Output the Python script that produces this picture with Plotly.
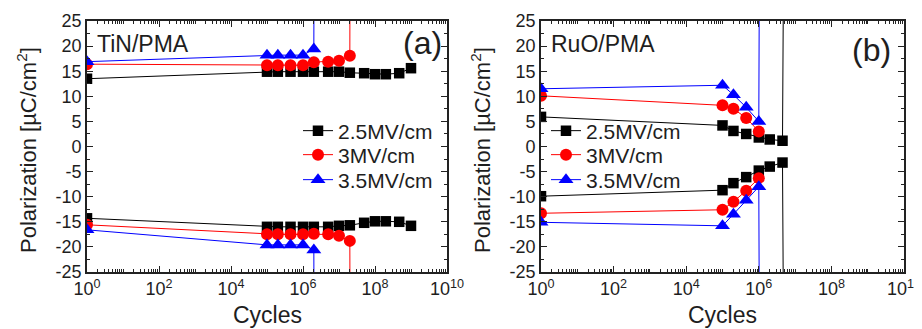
import plotly.graph_objects as go

# ---------------- data ----------------
series_names = ["2.5MV/cm", "3MV/cm", "3.5MV/cm"]
colors = ["#000000", "#ff0000", "#0000ff"]
symbols = ["square", "circle", "triangle-up"]

# Panel (a) TiN/PMA
a_25_cycles = [1, 1e5, 2e5, 4.5e5, 1e6, 2e6, 5e6, 1e7, 2e7, 5e7, 1e8, 2e8, 4.7e8, 1e9]
a_25_pos = [13.5, 14.9, 14.9, 14.9, 14.9, 14.9, 14.9, 14.9, 14.7, 14.6, 14.4, 14.4, 14.6, 15.6]
a_25_neg = [-14.3, -16.0, -16.0, -16.0, -16.0, -16.0, -16.0, -15.8, -15.7, -15.2, -14.9, -14.9, -15.0, -15.8]

a_3_cycles = [1, 1e5, 2e5, 4.5e5, 1e6, 2e6, 5e6, 1e7, 2e7, 2.1e7]
a_3_pos = [16.4, 16.2, 16.2, 16.2, 16.2, 16.8, 16.9, 17.1, 18.1, 100]
a_3_neg = [-15.6, -17.5, -17.5, -17.5, -17.5, -17.4, -17.5, -17.8, -18.8, -100]

a_35_cycles = [1, 1e5, 2e5, 4.5e5, 1e6, 2e6, 2.1e6]
a_35_pos = [16.9, 18.2, 18.2, 18.2, 18.2, 19.4, 100]
a_35_neg = [-16.6, -19.6, -19.6, -19.6, -19.6, -20.6, -100]

# Panel (b) RuO/PMA
b_25_cycles = [1, 1e5, 2e5, 4.5e5, 1e6, 2e6, 4.5e6, 5.4e6]
b_25_pos = [5.9, 4.2, 3.1, 2.5, 1.8, 1.4, 1.15, 100]
b_25_neg = [-9.9, -8.7, -7.3, -6.1, -4.8, -4.0, -3.2, -100]

b_3_cycles = [1, 1e5, 2e5, 4.5e5, 1e6]
b_3_pos = [10.1, 8.2, 7.5, 5.7, 3.0]
b_3_neg = [-13.3, -12.6, -11.0, -8.8, -6.3]

b_35_cycles = [1, 1e5, 2e5, 4.5e5, 1e6, 1.12e6]
b_35_pos = [11.5, 12.2, 10.3, 7.8, 5.0, 100]
b_35_neg = [-15.1, -15.8, -13.5, -10.7, -8.0, -100]

x_tick_exps = [0, 2, 4, 6, 8, 10]
y_tick_vals = [25, 20, 15, 10, 5, 0, -5, -10, -15, -20, -25]

panel_labels = ["TiN/PMA", "RuO/PMA"]
panel_tags = ["(a)", "(b)"]

# ---------------- figure ----------------
# the page body has an 8px default margin, so the figure is placed at (8, 8)
OFF = 8
W, H = 922 - OFF, 329 - OFF
FONT = "Arial, 'Liberation Sans', Helvetica, sans-serif"
TXT = "#1e1e1e"

def px(x):
    return (x - OFF) / W

def py(y):
    return 1 - (y - OFF) / H

fig = go.Figure()

panels = [
    ("x", "y", 0,
     [(a_25_cycles, a_25_pos, a_25_neg), (a_3_cycles, a_3_pos, a_3_neg), (a_35_cycles, a_35_pos, a_35_neg)]),
    ("x2", "y2", 1,
     [(b_25_cycles, b_25_pos, b_25_neg), (b_3_cycles, b_3_pos, b_3_neg), (b_35_cycles, b_35_pos, b_35_neg)]),
]

msize = [10.5, 12, 13]
for xa, ya, p, sets in panels:
    for i, (cx, pos, neg) in enumerate(sets):
        n = p * 3 + i + 1
        lg = "legend" if n == 1 else "legend%d" % n
        for j, vals in enumerate([pos, neg]):
            fig.add_trace(go.Scatter(
                x=cx, y=vals, xaxis=xa, yaxis=ya,
                mode="lines+markers",
                name=series_names[i],
                legend=lg,
                legendgroup=lg,
                showlegend=(j == 0),
                line=dict(color=colors[i], width=1),
                marker=dict(symbol=symbols[i], size=msize[i], color=colors[i],
                            line=dict(width=0)),
            ))

minor_vals = []
for d in range(0, 10):
    for m in range(2, 10):
        minor_vals.append(m * 10 ** d)
    if d % 2 == 1:
        minor_vals.append(10 ** d)

def xaxis_cfg(domain, anchor):
    return dict(
        type="log", range=[0, 10], domain=domain, anchor=anchor, automargin=False,
        tickmode="array",
        tickvals=[10 ** e for e in x_tick_exps],
        ticktext=["10<sup>%d</sup>" % e for e in x_tick_exps],
        ticks="inside", ticklen=6, tickwidth=1.2, tickcolor="#222",
        minor=dict(tickmode="array", tickvals=minor_vals, ticks="inside",
                   ticklen=3, tickwidth=1, tickcolor="#222"),
        showline=True, linecolor="#222", linewidth=1.6, mirror="ticks",
        showgrid=False, zeroline=False,
        tickfont=dict(family=FONT, size=18, color=TXT),
    )

def yaxis_cfg(anchor):
    return dict(
        range=[-25, 25], domain=[py(272), py(21)], anchor=anchor, automargin=False,
        tickmode="array", tickvals=y_tick_vals,
        ticktext=[str(v) for v in y_tick_vals],
        ticks="inside", ticklen=6, tickwidth=1.2, tickcolor="#222",
        minor=dict(dtick=2.5, ticks="inside", ticklen=3, tickwidth=1, tickcolor="#222"),
        showline=True, linecolor="#222", linewidth=1.6, mirror="ticks",
        showgrid=False, zeroline=False,
        tickfont=dict(family=FONT, size=18, color=TXT),
    )

legend_common = dict(
    font=dict(family=FONT, size=21, color=TXT),
    bgcolor="rgba(0,0,0,0)", borderwidth=0,
    xanchor="left", yanchor="middle", tracegroupgap=0, itemwidth=30,
)

row_y = [131, 155, 180]
legend_x = [298, 546]
legends = {}
for p in range(2):
    for i in range(3):
        n = p * 3 + i + 1
        key = "legend" if n == 1 else "legend%d" % n
        legends[key] = dict(x=px(legend_x[p]), y=py(row_y[i]), **legend_common)

fig.update_layout(
    width=W, height=H, autosize=False,
    margin=dict(l=0, r=0, t=0, b=0, autoexpand=False),
    paper_bgcolor="white", plot_bgcolor="white",
    xaxis=xaxis_cfg([px(87), px(447)], "y"),
    yaxis=yaxis_cfg("x"),
    xaxis2=xaxis_cfg([px(541), px(904)], "y2"),
    yaxis2=yaxis_cfg("x2"),
    **legends,
)

ann = []
tag_right = [444, 893]
tag_y = [43, 50]
for k, (left, right) in enumerate([(87, 447), (541, 904)]):
    ann.append(dict(text=panel_labels[k], x=px(left + 8), y=py(44), xref="paper", yref="paper",
                    xanchor="left", yanchor="middle", showarrow=False,
                    font=dict(family=FONT, size=23, color=TXT)))
    ann.append(dict(text=panel_tags[k], x=px(tag_right[k]), y=py(tag_y[k]), xref="paper", yref="paper",
                    xanchor="right", yanchor="middle", showarrow=False,
                    font=dict(family=FONT, size=32, color=TXT)))
    ann.append(dict(text="Cycles", x=px((left + right) / 2), y=py(315), xref="paper", yref="paper",
                    xanchor="center", yanchor="middle", showarrow=False,
                    font=dict(family=FONT, size=23, color=TXT)))
    ann.append(dict(text="Polarization [µC/cm<sup>2</sup>]", x=px(left - 60), y=py(150),
                    xref="paper", yref="paper", xanchor="center", yanchor="middle",
                    textangle=-90, showarrow=False,
                    font=dict(family=FONT, size=22, color=TXT)))
fig.update_layout(annotations=ann)

fig.write_html("out.html")
